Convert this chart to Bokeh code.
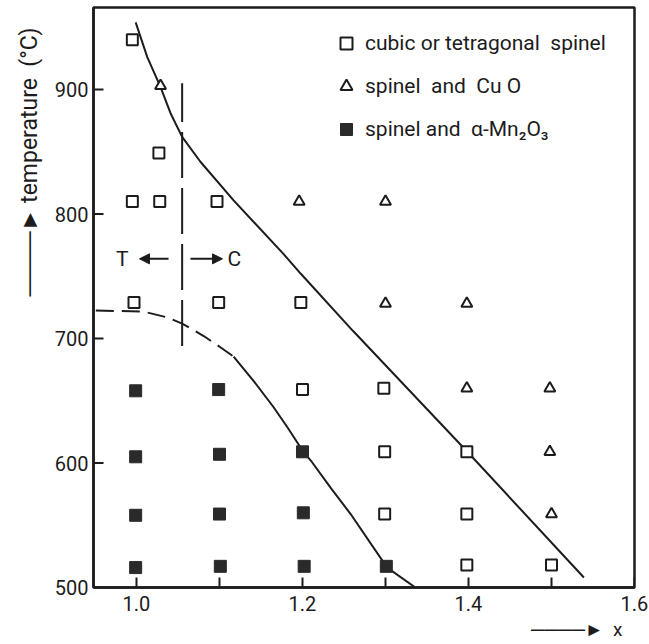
from bokeh.plotting import figure
from bokeh.models import (Legend, LegendItem, Label, Arrow, NormalHead,
                          FixedTicker, Range1d, Title)
from bokeh.embed import file_html
from bokeh.resources import INLINE

FONT = "Roboto"
INK = "#1c1c1c"

# ---- data ----
# cubic or tetragonal spinel (open squares)
sq_x = [0.995, 1.027, 0.995, 1.028, 1.097, 0.997, 1.099, 1.198, 1.200, 1.298,
        1.299, 1.398, 1.299, 1.398, 1.398, 1.500]
sq_y = [940, 849, 810, 810, 810, 729, 729, 729, 659, 660,
        609, 609, 559, 559, 518, 518]

# spinel and CuO (triangles)
tri_x = [1.029, 1.196, 1.300, 1.300, 1.398, 1.398, 1.498, 1.498, 1.500]
tri_y = [903, 810, 810, 728, 728, 660, 660, 609, 559]

# spinel and alpha-Mn2O3 (filled squares)
fs_x = [0.999, 0.999, 0.999, 0.999, 1.099, 1.100, 1.100, 1.101,
        1.200, 1.201, 1.202, 1.301]
fs_y = [658, 605, 558, 516, 659, 607, 559, 517,
        609, 560, 517, 517]

# upper phase boundary (solid)
up_x = [0.999, 1.013, 1.029, 1.041, 1.055, 1.077, 1.117, 1.177, 1.198,
        1.261, 1.400, 1.539]
up_y = [954, 926, 902, 881, 862, 842, 811, 768, 752,
        706, 608, 508]

# lower phase boundary: dashed part and solid part
lo_dash_x = [0.951, 1.008, 1.037, 1.055, 1.081, 1.101, 1.117]
lo_dash_y = [722.5, 721.7, 717, 712, 702, 693, 685.5]
lo_x = [1.117, 1.141, 1.165, 1.182, 1.200, 1.210, 1.234, 1.258, 1.302, 1.336]
lo_y = [685.5, 666, 645, 628.5, 610, 602, 580, 559, 516, 500]

# tetragonal / cubic transition (vertical dashed line)
tc_x = [1.055, 1.055]
tc_y = [694, 905]

x_ticks = [1.0, 1.1, 1.2, 1.3, 1.4, 1.5, 1.6]
x_labels = {1.0: "1.0", 1.1: "", 1.2: "1.2", 1.3: "", 1.4: "1.4", 1.5: "", 1.6: "1.6"}
y_ticks = [500, 600, 700, 800, 900]

X0, X1 = 0.9482, 1.6
Y0, Y1 = 500, 965.9

p = figure(width=649, height=644, x_range=Range1d(X0, X1),
           y_range=Range1d(Y0, Y1), output_backend="svg",
           toolbar_location=None, min_border_left=93, min_border_right=15,
           min_border_top=7, min_border_bottom=57)
p.grid.visible = False
p.outline_line_color = INK
p.outline_line_width = 2.5
p.background_fill_color = "white"

for ax in (p.xaxis[0], p.yaxis[0]):
    ax.axis_line_color = INK
    ax.axis_line_width = 2.5
    ax.major_tick_in = 0
    ax.major_tick_out = 0
    ax.minor_tick_line_color = None
    ax.major_label_text_font = FONT
    ax.major_label_text_font_size = "20px"
    ax.major_label_text_color = INK

p.xaxis.ticker = FixedTicker(ticks=x_ticks)
p.xaxis.major_label_overrides = x_labels
p.xaxis.major_label_standoff = 8
p.yaxis.ticker = FixedTicker(ticks=y_ticks)
p.yaxis.major_label_standoff = 5

# inward tick marks (dashes centred on the frame edge, clipped to the frame)
p.scatter([X0] * len(y_ticks), y_ticks, marker="dash", size=20,
          line_width=2, line_color=INK)
p.scatter(x_ticks, [Y0] * len(x_ticks), marker="dash", angle=1.5708, size=20,
          line_width=2, line_color=INK)

# boundaries
p.line(up_x, up_y, line_width=2, line_color=INK)
p.line(lo_dash_x, lo_dash_y, line_width=2, line_color=INK, line_dash="18 8")
p.line(lo_x, lo_y, line_width=2, line_color=INK)
p.line(tc_x, tc_y, line_width=2, line_color=INK, line_dash="46 10")

r_sq = p.scatter(sq_x, sq_y, marker="square", size=11, line_width=2,
                 line_color=INK, fill_color="white")
r_tri = p.scatter(tri_x, tri_y, marker="triangle", size=11, line_width=2,
                  line_color=INK, fill_color="white")
r_fs = p.scatter(fs_x, fs_y, marker="square", size=12, line_width=1,
                 line_color="#2a2a2a", fill_color="#2a2a2a")

legend = Legend(items=[
    LegendItem(label="cubic or tetragonal\u00a0 spinel", renderers=[r_sq]),
    LegendItem(label="spinel\u00a0 and\u00a0 Cu O", renderers=[r_tri]),
    LegendItem(label="spinel and\u00a0 \u03b1-Mn\u2082O\u2083", renderers=[r_fs]),
], location=(238, 443), glyph_width=30, glyph_height=30, spacing=13,
    label_standoff=4, padding=0, margin=0, border_line_color=None,
    background_fill_alpha=0, label_text_font=FONT,
    label_text_font_size="21px", label_text_color=INK)
p.add_layout(legend)

# T <- | -> C annotation
p.add_layout(Label(x=0.983, y=764, text="T", text_font=FONT,
                   text_font_size="21px", text_align="center",
                   text_baseline="middle", text_color=INK))
p.add_layout(Label(x=1.118, y=764, text="C", text_font=FONT,
                   text_font_size="21px", text_align="center",
                   text_baseline="middle", text_color=INK))
p.add_layout(Arrow(x_start=1.0386, y_start=764, x_end=1.0036, y_end=764,
                   line_width=2, line_color=INK,
                   end=NormalHead(size=10, fill_color=INK, line_color=INK)))
p.add_layout(Arrow(x_start=1.065, y_start=764, x_end=1.1036, y_end=764,
                   line_width=2, line_color=INK,
                   end=NormalHead(size=10, fill_color=INK, line_color=INK)))

# axis titles with arrows
p.add_layout(Title(text="\u2500\u2500\u2500\u2500\u25ba temperature\u00a0 (\u00b0C)",
                   align="right", offset=20, standoff=17, text_font=FONT,
                   text_font_size="23px", text_font_style="normal",
                   text_color=INK), "left")
p.add_layout(Title(text="\u2500\u2500\u2500\u2500\u25ba\u00a0 x", align="right",
                   offset=12, standoff=5, text_font=FONT,
                   text_font_size="19px", text_font_style="normal",
                   text_color=INK), "below")

open("out.html", "w").write(file_html(p, INLINE))
